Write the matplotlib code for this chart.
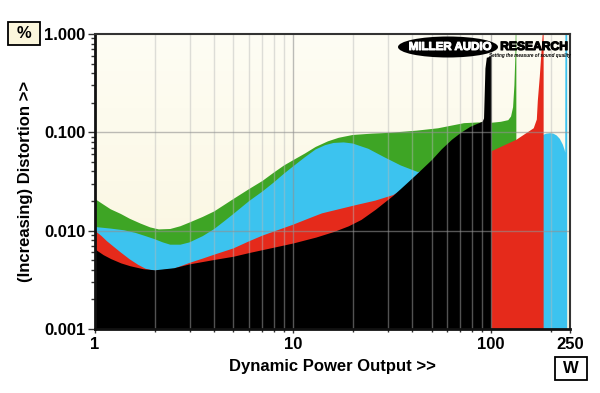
import numpy as np
import matplotlib
matplotlib.use("Agg")
import matplotlib.pyplot as plt
from matplotlib.patches import Ellipse, Rectangle
from matplotlib.ticker import FixedLocator, NullFormatter
import matplotlib.patheffects as pe

plt.rcParams['font.family'] = ['Liberation Sans', 'DejaVu Sans']

# Data (power in W, distortion in %)
green_w = [1, 1.1, 1.2, 1.35, 1.5, 1.7, 1.9, 2.1, 2.4, 2.7, 3, 3.5, 4, 4.5, 5, 6, 7, 8, 9, 10,
           11.5, 13, 15, 17, 20, 25, 31, 42, 54, 63, 73, 86,
           100, 112, 122, 126, 129, 131, 132.5, 133, 134]
green_d = [0.021, 0.0185, 0.0165, 0.0148, 0.0132, 0.0118, 0.0108, 0.0103, 0.0104, 0.0111, 0.0121,
           0.0138, 0.0157, 0.0183, 0.021, 0.0265, 0.032, 0.039, 0.046, 0.052,
           0.061, 0.071, 0.081, 0.088, 0.094, 0.097, 0.099, 0.104, 0.110, 0.117, 0.124, 0.126,
           0.125, 0.128, 0.133, 0.145, 0.18, 0.3, 0.6, 1.0, 1.0]

cyan_w = [1, 1.2, 1.4, 1.6, 1.8, 2.0, 2.2, 2.4, 2.7, 3, 3.5, 4, 4.5, 5, 6, 7, 8, 9, 10,
          11.5, 13, 14.5, 16, 18, 20, 24, 28.8, 35, 42.6,
          60, 100, 150, 182, 190, 198, 206, 214, 222, 230, 235, 236.5, 237, 242]
cyan_d = [0.0109, 0.0105, 0.0101, 0.0095, 0.0088, 0.0082, 0.0076, 0.0072, 0.0072, 0.0076, 0.0088,
          0.0104, 0.0125, 0.0148, 0.020, 0.025, 0.031, 0.038, 0.045,
          0.056, 0.067, 0.074, 0.078, 0.079, 0.077, 0.068, 0.056, 0.046, 0.0395,
          0.045, 0.055, 0.075, 0.094, 0.097, 0.098, 0.097, 0.093, 0.086, 0.075, 0.066, 0.062, 1.0, 1.0]

red_w = [1, 1.08, 1.15, 1.25, 1.35, 1.5, 1.65, 1.8, 2.0, 2.5, 3, 3.5, 4, 5, 6, 7, 8, 10, 12, 14,
         17, 21, 26, 32, 40, 60, 80, 99,
         100, 134, 164, 170, 172, 176, 182, 184]
red_d = [0.0100, 0.0088, 0.0078, 0.0068, 0.0060, 0.0051, 0.0045, 0.0041, 0.0039, 0.0041, 0.0047,
         0.0052, 0.0057, 0.0066, 0.0078, 0.0089, 0.0098, 0.0115, 0.0133, 0.0150,
         0.0165, 0.0183, 0.0202, 0.023, 0.030, 0.045, 0.055, 0.060,
         0.064, 0.084, 0.110, 0.135, 0.21, 0.37, 1.0, 1.0]

black_w = [1, 1.1, 1.2, 1.35, 1.5, 1.75, 2.0, 2.5, 3, 4, 5, 6, 8, 10, 13, 16, 19, 22, 26, 32, 37,
           42, 50, 56, 63, 70, 78, 86, 90, 91.5, 93, 94.5, 100]
black_d = [0.0065, 0.0057, 0.0052, 0.0047, 0.0044, 0.0041, 0.0040, 0.0042, 0.0046, 0.0051, 0.0055,
           0.0060, 0.0068, 0.0075, 0.0086, 0.0098, 0.0112, 0.013, 0.0165, 0.023, 0.030,
           0.038, 0.053, 0.068, 0.085, 0.100, 0.115, 0.125, 0.13, 0.14, 0.45, 0.58, 0.60]

x_ticks = [1, 10, 100, 250]
x_labels = ['1', '10', '100', '250']
y_ticks = [0.001, 0.01, 0.1, 1.0]
y_labels = ['0.001', '0.010', '0.100', '1.000']

fig = plt.figure(figsize=(6, 3.93), dpi=100)
ax = fig.add_axes([95/600, 1-329/393, 475/600, 295/393])
ax.set_xscale('log')
ax.set_yscale('log')
ax.set_xlim(1, 250)
ax.set_ylim(0.001, 1.0)

# cream gradient background
grad = np.linspace(0, 1, 256).reshape(-1, 1)
top = np.array([250, 245, 220]) / 255
bot = np.array([254, 253, 244]) / 255
img = top + (bot - top) * grad[..., None]
ax.imshow(img[::-1], extent=[0, 1, 0, 1], transform=ax.transAxes, aspect='auto', zorder=0)

for w, d, c in [(green_w, green_d, '#3ea525'), (cyan_w, cyan_d, '#3cc3ef'),
                (red_w, red_d, '#e52a1b'), (black_w, black_d, '#000000')]:
    ax.fill_between(w, 1e-4, d, color=c, lw=0, zorder=1)

# grid on top of the fills
minor_x = [2, 3, 4, 5, 6, 7, 8, 9, 20, 30, 40, 50, 60, 70, 80, 90, 200]
for v in minor_x:
    ax.axvline(v, color='#b8b8b8', alpha=0.45, lw=1, zorder=2)
for v in [10, 100]:
    ax.axvline(v, color='#909090', alpha=0.6, lw=1, zorder=2)
for v in [0.01, 0.1]:
    ax.axhline(v, color='#909090', alpha=0.6, lw=1, zorder=2)

ax.xaxis.set_major_locator(FixedLocator(x_ticks))
ax.set_xticklabels(x_labels)
ax.xaxis.set_minor_locator(FixedLocator(minor_x))
ax.xaxis.set_minor_formatter(NullFormatter())
ax.yaxis.set_major_locator(FixedLocator(y_ticks))
ax.set_yticklabels(y_labels)
ax.yaxis.set_minor_locator(FixedLocator([m * 10.0**e for e in (-3, -2, -1) for m in range(2, 10)]))
ax.yaxis.set_minor_formatter(NullFormatter())
ax.tick_params(which='both', direction='out', color='#333333', width=1)
ax.tick_params(axis='y', which='major', length=5, pad=2, labelsize=12)
ax.tick_params(axis='y', which='minor', length=3)
ax.tick_params(axis='x', which='major', length=3, pad=3, labelsize=12)
ax.tick_params(axis='x', which='minor', length=2)
for lab in ax.get_xticklabels() + ax.get_yticklabels():
    lab.set_fontweight('bold')

for s in ['left', 'bottom']:
    ax.spines[s].set_linewidth(2)
    ax.spines[s].set_color('#111111')
for s in ['top', 'right']:
    ax.spines[s].set_linewidth(1.5)
    ax.spines[s].set_color('#333333')

ax.set_xlabel('Dynamic Power Output >>', fontsize=12, fontweight='bold', labelpad=5)
ax.set_ylabel('(Increasing) Distortion >>', fontsize=12, fontweight='bold', labelpad=8)

# unit boxes
fig.patches.append(Rectangle((8/600, 1-45/393), 32/600, 23/393, transform=fig.transFigure,
                             fc='#fbf6dc', ec='black', lw=1.3))
fig.text(24/600, 1-34/393, '%', ha='center', va='center', fontsize=12, fontweight='bold')
fig.patches.append(Rectangle((555/600, 1-380/393), 32/600, 23/393, transform=fig.transFigure,
                             fc='white', ec='black', lw=1.3))
fig.text(571/600, 1-368.5/393, 'W', ha='center', va='center', fontsize=12, fontweight='bold')

# logo
fig.patches.append(Ellipse((448/600, 1-47/393), 100/600, 21/393, transform=fig.transFigure,
                           fc='black', ec='none', zorder=5))
fig.text(450/600, 1-47/393, 'MILLER AUDIO', ha='center', va='center', color='white',
         fontsize=8.3, fontweight='bold', zorder=6,
         path_effects=[pe.withStroke(linewidth=0.7, foreground='white')])
fig.text(534/600, 1-47/393, 'RESEARCH', ha='center', va='center', color='black',
         fontsize=8.7, fontweight='bold', zorder=6,
         path_effects=[pe.withStroke(linewidth=0.8, foreground='black')])
fig.text(530/600, 1-56/393, 'Setting the measure of sound quality', ha='center', va='center',
         color='black', fontsize=3.3, fontweight='bold', style='italic', zorder=6)

fig.savefig('out.png', dpi=100)
